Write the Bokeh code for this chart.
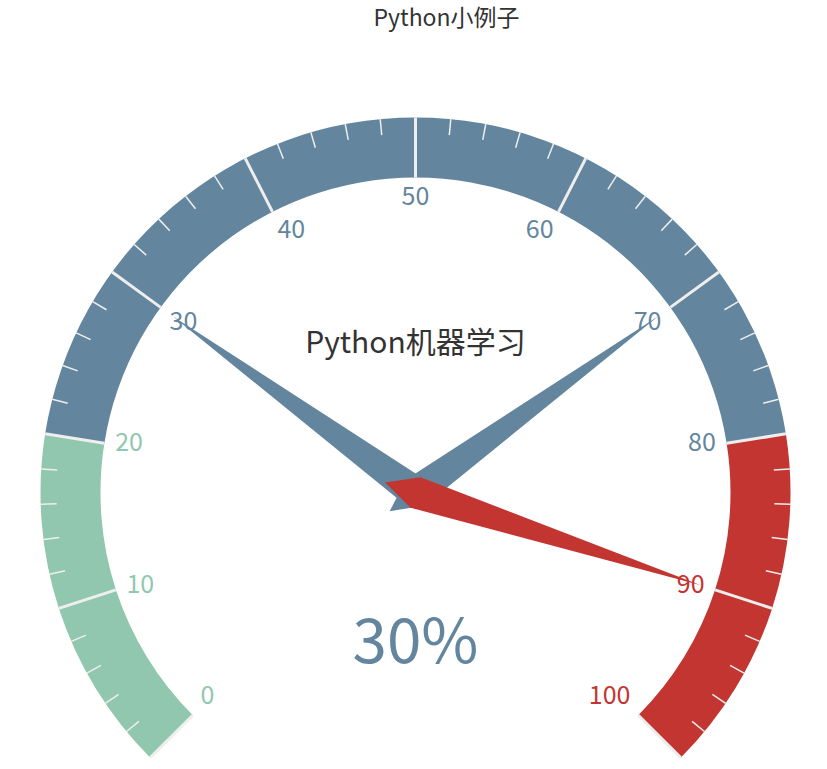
import numpy as np
from bokeh.plotting import figure
from bokeh.models import Range1d, ColumnDataSource
from bokeh.core.properties import value
from bokeh.embed import file_html
from bokeh.resources import INLINE

# ---- data ----
chart_title = "Python小例子"
gauge_name = "Python机器学习"
pointer_values = [30, 70, 90]
detail_text = "30%"
axis_min, axis_max = 0, 100
split_number = 10
tick_split = 5
color_stops = [0.2, 0.8, 1.0]
color_list = ["#91c7ae", "#63869e", "#c23531"]
tick_labels = [str(v) for v in range(0, 101, 10)]

# ---- layout ----
W, H = 811, 761
FONT = "Noto Sans CJK SC"
cx, cy_img = 415, 492
cy = 769 - cy_img
R_OUT, BAND = 375, 60
R_IN = R_OUT - BAND
TICK_LEN = 16
LABEL_R = 304
LABEL_DY = 3
PTR_LEN = 300
PTR_W = 16
START, END = 225.0, -45.0

def ang(v):
    return np.deg2rad(START + (v - axis_min) / (axis_max - axis_min) * (END - START))

def color_at(v):
    f = (v - axis_min) / (axis_max - axis_min)
    for s, c in zip(color_stops, color_list):
        if f <= s + 1e-9:
            return c
    return color_list[-1]

p = figure(width=W, height=H, output_backend="svg", toolbar_location=None,
           x_range=Range1d(0, W), y_range=Range1d(769 - H, 769),
           min_border=0, x_axis_location=None, y_axis_location=None)
p.grid.visible = False
p.outline_line_color = None
p.background_fill_color = "white"

# bands
prev = 0.0
for s, c in zip(color_stops, color_list):
    a0 = START + prev * (END - START)
    a1 = START + s * (END - START)
    p.annular_wedge(x=cx, y=cy, inner_radius=R_IN, outer_radius=R_OUT,
                    start_angle=np.deg2rad(a1), end_angle=np.deg2rad(a0),
                    direction="anticlock", fill_color=c, line_color=None)
    prev = s

# minor ticks
step = (axis_max - axis_min) / split_number
minor = []
for i in range(split_number):
    for j in range(1, tick_split):
        minor.append(axis_min + i * step + j * step / tick_split)
minor = np.array(minor)
ma = ang(minor)
p.segment(x0=cx + (R_OUT - TICK_LEN) * np.cos(ma), y0=cy + (R_OUT - TICK_LEN) * np.sin(ma),
          x1=cx + R_OUT * np.cos(ma), y1=cy + R_OUT * np.sin(ma),
          line_color="#eeeeee", line_width=1.5)

# split lines
majors = np.array([axis_min + i * step for i in range(split_number + 1)])
sa = ang(majors)
p.segment(x0=cx + R_IN * np.cos(sa), y0=cy + R_IN * np.sin(sa),
          x1=cx + R_OUT * np.cos(sa), y1=cy + R_OUT * np.sin(sa),
          line_color="#eeeeee", line_width=3)

# pointers
xs, ys, cs = [], [], []
for v in pointer_values:
    a = ang(v)
    b = a - np.pi / 2
    bx, by = cx - np.cos(a) * PTR_W * 2, cy - np.sin(a) * PTR_W * 2
    xs.append([bx, cx + np.cos(b) * PTR_W, cx + np.cos(a) * PTR_LEN, cx - np.cos(b) * PTR_W])
    ys.append([by, cy + np.sin(b) * PTR_W, cy + np.sin(a) * PTR_LEN, cy - np.sin(b) * PTR_W])
    cs.append(color_at(v))
p.patches(xs=xs, ys=ys, fill_color=cs, line_color=None)

# axis labels (anchored like ECharts: alignment depends on direction)
ux, uy_screen = np.cos(sa), -np.sin(sa)
aligns = ["left" if u < -0.4 else ("right" if u > 0.4 else "center") for u in ux]
bases = ["top" if u < -0.4 else ("bottom" if u > 0.4 else "middle") for u in uy_screen]
lsrc = ColumnDataSource(dict(
    x=cx + LABEL_R * np.cos(sa), y=cy + LABEL_R * np.sin(sa) + LABEL_DY,
    t=tick_labels, c=[color_at(v) for v in majors], al=aligns, bl=bases))
p.text(x="x", y="y", text="t", source=lsrc, text_color="c", text_font=value(FONT),
       text_font_size="25px", text_align="al", text_baseline="bl")

# gauge name
p.text(x=[cx], y=[769 - 339], text=[gauge_name], text_color="#333333", text_font=value(FONT),
       text_font_size="30px", text_align="center", text_baseline="middle")

# detail
p.text(x=[cx], y=[769 - 635], text=[detail_text], text_color=color_at(pointer_values[0]),
       text_font=value(FONT), text_font_size="62px", text_align="center", text_baseline="middle")

# chart title
p.text(x=[446], y=[769 - 15], text=[chart_title], text_color="#333333", text_font=value(FONT),
       text_font_size="23px", text_align="center", text_baseline="middle")

open("out.html", "w").write(file_html(p, INLINE))
